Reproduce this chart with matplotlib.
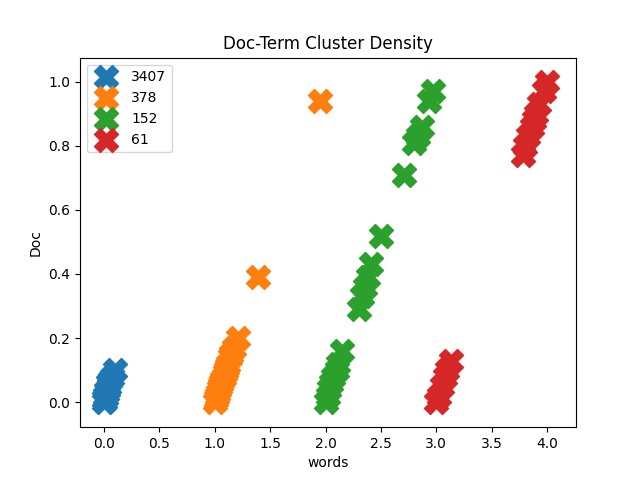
import matplotlib
matplotlib.use("Agg")
import matplotlib.pyplot as plt

# cluster labels (sizes)
labels = ["3407", "378", "152", "61"]

# blue cluster
x_3407 = [0.0, 0.01, 0.0, 0.02, 0.01, 0.03, 0.02, 0.04, 0.05, 0.04, 0.06, 0.07, 0.1]
y_3407 = [0.0, 0.005, 0.01, 0.015, 0.02, 0.03, 0.035, 0.04, 0.05, 0.06, 0.07, 0.08, 0.1]

# orange cluster
x_378 = [1.0, 1.01, 1.02, 1.03, 1.04, 1.05, 1.06, 1.07, 1.08, 1.09, 1.1, 1.11, 1.12,
         1.14, 1.15, 1.17, 1.21, 1.39, 1.95]
y_378 = [0.0, 0.01, 0.02, 0.03, 0.04, 0.05, 0.06, 0.07, 0.08, 0.09, 0.1, 0.11, 0.12,
         0.14, 0.15, 0.17, 0.2, 0.39, 0.94]

# green cluster
x_152 = [2.0, 2.02, 2.03, 2.05, 2.07, 2.1, 2.11, 2.15,
         2.3, 2.33, 2.36, 2.38, 2.41, 2.5, 2.71,
         2.8, 2.83, 2.87, 2.93, 2.97]
y_152 = [0.0, 0.02, 0.04, 0.06, 0.08, 0.1, 0.12, 0.16,
         0.29, 0.33, 0.36, 0.39, 0.43, 0.52, 0.71,
         0.81, 0.83, 0.86, 0.94, 0.97]

# red cluster
x_61 = [3.0, 3.02, 3.05, 3.08, 3.1, 3.13,
        3.78, 3.8, 3.83, 3.86, 3.88, 3.9, 3.93, 3.97, 4.0]
y_61 = [0.0, 0.02, 0.05, 0.08, 0.1, 0.13,
        0.77, 0.8, 0.83, 0.86, 0.88, 0.9, 0.93, 0.97, 1.0]

xs = [x_3407, x_378, x_152, x_61]
ys = [y_3407, y_378, y_152, y_61]

fig, ax = plt.subplots(figsize=(6.4, 4.8), dpi=100)
for x, y, lab in zip(xs, ys, labels):
    ax.scatter(x, y, marker="X", s=300, label=lab)

ax.set_xlim(-0.215, 4.26)
ax.set_ylim(-0.078, 1.075)
ax.set_title("Doc-Term Cluster Density")
ax.set_xlabel("words")
ax.set_ylabel("Doc")
ax.legend(loc="upper left")

fig.savefig("out.png", dpi=100)
